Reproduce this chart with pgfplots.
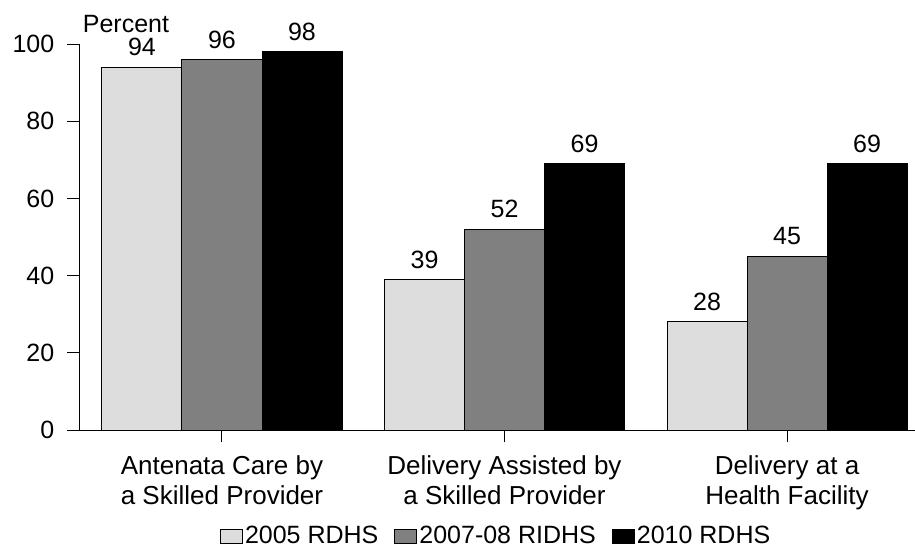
\documentclass[border=0pt]{standalone}
\usepackage{fontspec}
\setmainfont{Liberation Sans}
\usepackage{pgfplots}
\pgfplotsset{compat=1.18}

\definecolor{lightbar}{HTML}{DDDDDD}
\definecolor{midbar}{HTML}{808080}

\pgfplotsset{
  boxlegend/.style={legend image code/.code={%
    \draw[##1,line width=0.5pt] (0pt,-3.5pt) rectangle (11pt,3.5pt);}},
}

\begin{document}
\begin{tikzpicture}
\useasboundingbox (-111pt,-59pt) rectangle (346.5pt,215pt);
\begin{axis}[
  at={(0,0)}, anchor=origin,
  x=141.25pt, y=1.93pt,
  xmin=-0.505, xmax=2.5,
  ymin=0, ymax=100,
  ybar=0pt, bar width=40pt,
  axis lines=left,
  axis line style={-, line width=0.5pt},
  tick style={black, line width=0.5pt},
  tick align=outside,
  major tick length=6pt,
  ytick={0,20,40,60,80,100},
  xtick={0,1,2},
  xticklabels={Antenata Care by\\a Skilled Provider,
               Delivery Assisted by\\a Skilled Provider,
               Delivery at a\\Health Facility},
  x tick label style={align=center, font=\fontsize{13}{15}\selectfont, yshift=-3.5pt},
  y tick label style={font=\fontsize{12.5}{14}\selectfont, xshift=-3pt},
  /pgf/number format/assume math mode=true,
  nodes near coords,
  every node near coord/.append style={font=\fontsize{12.5}{14}\selectfont, yshift=2pt, black},
  clip=false,
  legend columns=3,
  legend style={at={(0.491,-0.275)}, anchor=center, draw=none,
    font=\fontsize{12.5}{14}\selectfont,
    /tikz/every even column/.append style={column sep=7pt},
    nodes={inner xsep=1pt}},
]
\addplot[fill=lightbar, draw=black, line width=0.5pt, boxlegend] coordinates {(0,94) (1,39) (2,28)};
\addplot[fill=midbar, draw=black, line width=0.5pt, boxlegend] coordinates {(0,96) (1,52) (2,45)};
\addplot[fill=black, draw=black, line width=0.5pt, boxlegend] coordinates {(0,98) (1,69) (2,69)};
\legend{2005 RDHS, 2007-08 RIDHS, 2010 RDHS}
\node[font=\fontsize{12.5}{14}\selectfont] at (axis cs:-0.34,105.2) {Percent};
\end{axis}
\end{tikzpicture}
\end{document}
